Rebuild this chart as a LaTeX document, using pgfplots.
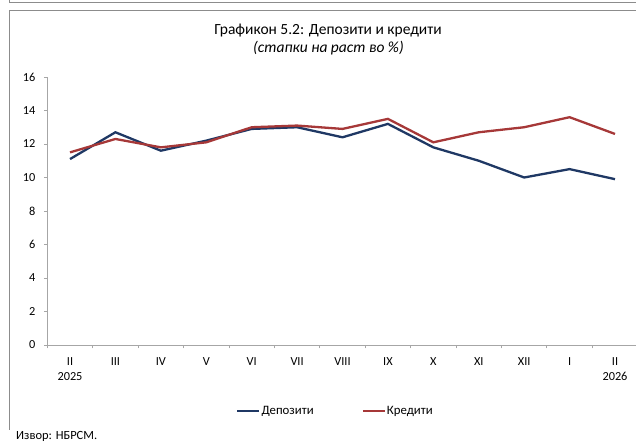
\documentclass[border=0pt]{standalone}
\usepackage{fontspec}
\setmainfont{Carlito}
\usepackage{pgfplots}
\pgfplotsset{compat=1.18}
\definecolor{depblue}{RGB}{31,56,100}
\definecolor{credred}{RGB}{166,56,56}
\definecolor{axgray}{RGB}{166,166,166}
\definecolor{framegray}{RGB}{140,140,140}
\begin{document}
\begin{tikzpicture}[x=1pt,y=1pt]
\useasboundingbox (0,0) rectangle (636,443);
% frames
\draw[framegray,line width=1pt] (9,443) -- (9,440) -- (640,440);
\draw[framegray,line width=1pt] (9,13) -- (9,432.3) -- (640,432.3);
% titles
\node[font=\fontsize{15.5}{18}\selectfont] at (328,412) {Графикон 5.2: Депозити и кредити};
\node[font=\fontsize{15.5}{18}\selectfont\itshape] at (328.5,395) {(стапки на раст во \%)};
\node[anchor=base west,inner sep=0pt,font=\fontsize{12.5}{15}\selectfont] at (16,3) {Извор: НБРСМ.};
\begin{axis}[
  at={(47.3pt,98pt)}, anchor=south west,
  scale only axis, width=590.4pt, height=268pt,
  xmin=-0.5, xmax=12.5, ymin=0, ymax=16,
  axis x line*=bottom, axis y line*=left,
  axis line style={axgray,line width=0.8pt},
  ytick={0,2,...,16},
  tick align=outside, major tick length=3.5pt,
  tick style={axgray,line width=0.8pt},
  xtick={-0.5,0.5,1.5,2.5,3.5,4.5,5.5,6.5,7.5,8.5,9.5,10.5,11.5,12.5},
  xticklabels={},
  extra x ticks={0,1,2,3,4,5,6,7,8,9,10,11,12},
  extra x tick labels={{II\\2025},III,IV,V,VI,VII,VIII,IX,X,XI,XII,I,{II\\2026}},
  extra x tick style={major tick length=0pt},
  xticklabel style={align=center,font=\fontsize{12.3}{15.5}\selectfont,yshift=-9pt},
  yticklabel style={font=\fontsize{12.3}{15}\selectfont,xshift=-5pt},
  /pgf/number format/assume math mode=true,
  legend columns=2,
  legend style={draw=none,fill=none,at={(0.4873,-0.245)},anchor=center,
    font=\fontsize{12.8}{15}\selectfont,
    nodes={inner sep=1pt},
    /tikz/every even column/.append style={column sep=47pt}},
  legend image code/.code={\draw[#1] (0pt,0pt) -- (22pt,0pt);},
]
\addplot[depblue,line width=2.3pt] coordinates {
(0,11.1) (1,12.7) (2,11.6) (3,12.2) (4,12.9) (5,13.0) (6,12.4) (7,13.2) (8,11.8) (9,11.0) (10,10.0) (11,10.5) (12,9.9)};
\addlegendentry{Депозити}
\addplot[credred,line width=2.3pt] coordinates {
(0,11.5) (1,12.3) (2,11.8) (3,12.1) (4,13.0) (5,13.1) (6,12.9) (7,13.5) (8,12.1) (9,12.7) (10,13.0) (11,13.6) (12,12.6)};
\addlegendentry{Кредити}
\end{axis}
\end{tikzpicture}
\end{document}
